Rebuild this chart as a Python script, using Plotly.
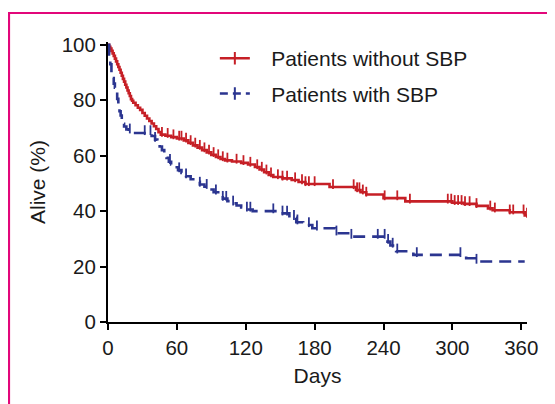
import numpy as np
import plotly.graph_objects as go

# ---------------- data ----------------
series_names = ["Patients without SBP", "Patients with SBP"]

# Kaplan-Meier steps: patients without SBP
red_t = [0, 1, 2, 3, 4, 5, 6, 7, 8, 9, 10, 11, 12, 13, 14, 15, 16, 17, 18, 19, 20,
         21, 22, 24, 26, 28, 30, 32, 34, 36, 38, 40, 42, 44, 46, 50, 55, 60, 66, 70,
         74, 78, 82, 86, 90, 94, 98, 102, 108, 116, 122, 128, 132, 136, 140, 144,
         152, 160, 166, 172, 193, 216, 220, 225, 240, 259, 300, 310, 321, 331, 335,
         350, 363]
red_s = [100, 99.3, 98.6, 97.8, 96.9, 96, 95, 94, 93, 92, 91, 89.9, 88.8, 87.7, 86.7,
         85.6, 84.6, 83.5, 82.5, 81.5, 80.4, 79.8, 79.1, 78.2, 77.3, 76.5, 75.4, 74.4,
         73.4, 72.5, 71.6, 70.6, 69.6, 68.5, 67.6, 67.2, 66.7, 66.2, 65.5, 64.6, 63.7,
         62.9, 62.0, 61.2, 60.3, 59.5, 58.8, 58.3, 57.9, 57.4, 56.8, 55.9, 55.0, 54.0,
         53.0, 52.3, 51.8, 51.2, 50.5, 49.8, 48.7, 47.6, 46.8, 46.0, 44.7, 43.5, 43.0,
         42.6, 41.9, 41.0, 40.3, 39.6, 38.4]
red_censor = [47, 52, 57, 62, 64, 68, 72, 76, 80, 84, 88, 92, 96, 100, 104, 112, 118,
              124, 130, 134, 138, 142, 148, 152, 156, 163, 169, 172, 175, 180, 196,
              214, 217, 219, 222, 225, 241, 252, 263, 296, 299, 302, 305, 308, 311,
              315, 321, 333, 337, 350, 353, 362, 365]
red_end = 365

# Kaplan-Meier steps: patients with SBP
blue_t = [0, 1, 2, 3, 4, 5, 6, 7, 8, 9, 10, 11, 12, 13, 14, 16, 18, 20, 38, 41, 43,
          45, 47, 49, 51, 53, 55, 58, 61, 64, 68, 72, 76, 80, 84, 88, 92, 96, 100,
          104, 108, 112, 116, 120, 126, 150, 158, 164, 170, 178, 198, 212, 242, 246,
          251, 266, 312, 320]
blue_s = [100, 96.5, 93, 90, 88, 86, 84.5, 83, 80.5, 78, 76, 74.5, 73, 71.5, 70.5,
          69.5, 68.8, 68.2, 67.1, 65.8, 64.6, 63.3, 62, 60.5, 59.2, 57.8, 56.8, 55.8,
          54.8, 53.8, 52.6, 51.5, 50.6, 49.6, 48.8, 47.8, 46.8, 45.6, 44.5, 43.6, 42.8,
          42, 41.3, 40.6, 40, 39.2, 37.6, 36.0, 35.0, 33.8, 32.0, 30.8, 29.0, 27.6,
          25.5, 24.2, 23.0, 21.8]
blue_censor = [19, 32, 37, 41, 54, 62, 68, 80, 86, 94, 100, 103, 109, 121, 124, 144,
               152, 156, 162, 165, 175, 182, 199, 212, 235, 241, 244, 248, 252, 269,
               307, 321]
blue_end = 363

x_ticks = [0, 60, 120, 180, 240, 300, 360]
y_ticks = [0, 20, 40, 60, 80, 100]

red = "#C61F26"
blue = "#2B3590"
pink = "#E2077A"
font_family = "Liberation Sans, Arial, sans-serif"


def km_line(times, surv, end):
    t = np.array(times + [end], dtype=float)
    s = np.array(surv + [surv[-1]], dtype=float)
    return t, s


def censor_y(times, surv, ct):
    t = np.array(times, dtype=float)
    s = np.array(surv, dtype=float)
    idx = np.searchsorted(t, np.array(ct, dtype=float), side="right") - 1
    return s[idx]


fig = go.Figure()

groups = [
    (red_t, red_s, red_censor, red_end, red, "solid"),
    (blue_t, blue_s, blue_censor, blue_end, blue, "12px,7px"),
]

for name, (t, s, ct, end, col, dash) in zip(series_names, groups):
    lx, ly = km_line(t, s, end)
    fig.add_trace(go.Scatter(
        x=lx, y=ly, mode="lines", line=dict(color=col, width=2.6, shape="hv", dash=dash),
        showlegend=False, hoverinfo="skip"))
    cy = censor_y(t, s, ct) + 1.0
    fig.add_trace(go.Scatter(
        x=ct, y=cy, mode="markers",
        marker=dict(symbol="line-ns", size=7, line=dict(color=col, width=1.8)),
        showlegend=False, hoverinfo="skip"))
    # legend entry (leading spaces only widen the gap after the symbol)
    fig.add_trace(go.Scatter(
        x=[None], y=[None], mode="lines+markers", name="\u2002\u00a0" + name,
        legendgroup=name,
        line=dict(color=col, width=2.6, dash=("8px,5px" if dash != "solid" else dash)),
        marker=dict(symbol="line-ns", size=9, line=dict(color=col, width=2))))

# pink frame (left and top edges of a box)
fig.add_shape(type="path", xref="paper", yref="paper",
              path="M -0.2363 -0.35 L -0.2363 1.1036 L 1.2 1.1036",
              line=dict(color=pink, width=2.2))

axis_common = dict(
    showline=True, linecolor="black", linewidth=2,
    ticks="outside", ticklen=6, tickwidth=2, tickcolor="black",
    showgrid=False, zeroline=False,
    tickfont=dict(family=font_family, size=20.5, color="#1a1a1a"),
)

fig.update_layout(
    width=547, height=396,
    margin=dict(l=100, r=28, t=34, b=82, autoexpand=False),
    paper_bgcolor="white", plot_bgcolor="white",
    font=dict(family=font_family, size=21, color="#1a1a1a"),
    xaxis=dict(range=[0, 365], tickvals=x_ticks,
               title=dict(text="Days", font=dict(size=21), standoff=11),
               **axis_common),
    yaxis=dict(range=[0, 101], tickvals=y_ticks,
               title=dict(text="Alive (%)", font=dict(size=21), standoff=10),
               **axis_common),
    legend=dict(x=0.255, y=1.014, xanchor="left", yanchor="top",
                traceorder="grouped", tracegroupgap=5,
                font=dict(family=font_family, size=21, color="#1a1a1a"),
                bgcolor="rgba(0,0,0,0)", itemwidth=30),
    showlegend=True,
)

fig.write_html("out.html")
